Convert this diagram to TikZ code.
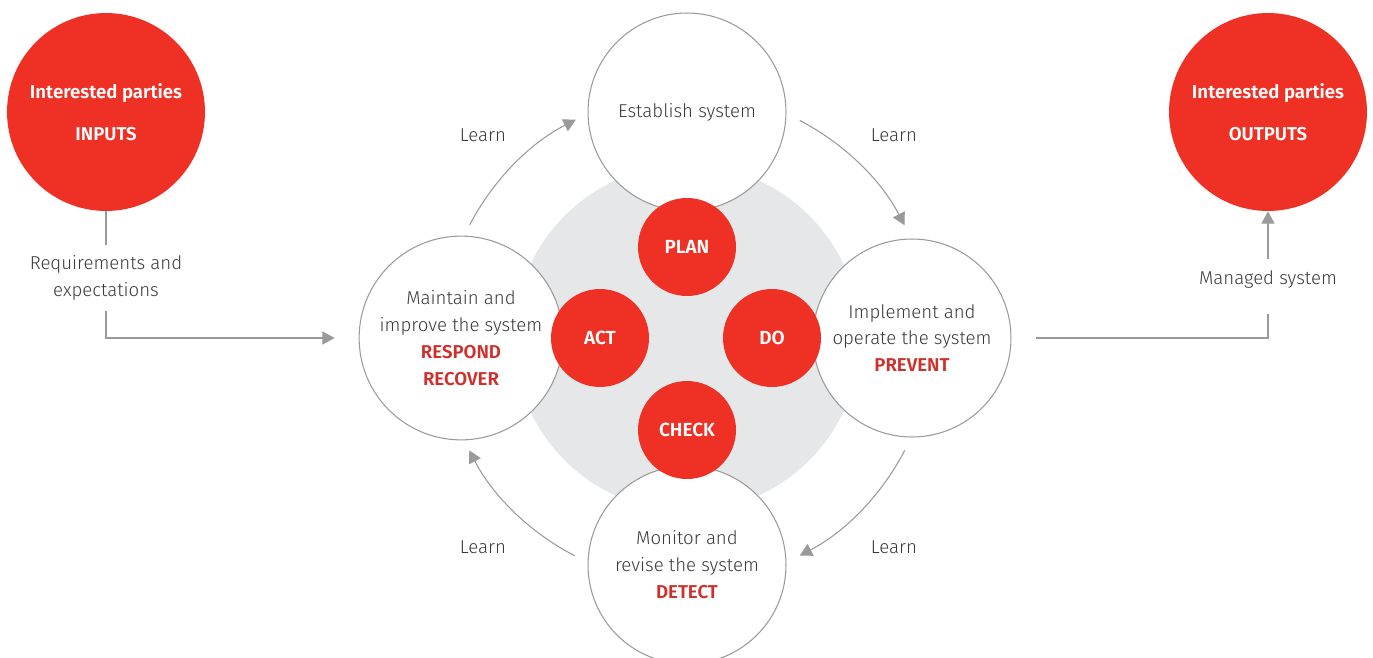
\documentclass[tikz,border=0pt]{standalone}
\usepackage{fontspec}
\setmainfont{Fira Sans Light}[BoldFont={Fira Sans SemiBold}]
\usetikzlibrary{shapes, arrows.meta}
\definecolor{isored}{HTML}{EE3124}
\definecolor{respred}{HTML}{D0302B}
\definecolor{ringgray}{HTML}{9A9A9A}
\definecolor{hubgray}{HTML}{E6E7E8}
\definecolor{textgray}{HTML}{3A3A3A}
\tikzstyle{base} = [circle, align=center, font=\fontsize{10.6}{15.3}\selectfont]
\tikzstyle{party} = [base, fill=isored, text=white, minimum size=3.96cm, font=\fontsize{10.6}{15.3}\selectfont\bfseries]
\tikzstyle{stage} = [base, draw=ringgray, line width=0.6pt, fill=white, text=textgray, minimum size=3.96cm]
\tikzstyle{phase} = [base, fill=isored, text=white, minimum size=1.96cm, font=\fontsize{10.8}{15.3}\selectfont\bfseries]
\tikzstyle{connector} = [draw=ringgray, line width=0.6pt, -{Triangle[length=7pt,width=7.5pt]}, ringgray]
\tikzstyle{connector text} = [text=textgray, align=center, inner sep=6pt, font=\fontsize{10.6}{15.3}\selectfont]
\newcommand{\respond}[1]{\textcolor{respred}{\textbf{#1}}}

\begin{document}
\begin{tikzpicture}[x=0.02cm, y=0.02cm]
	\useasboundingbox (0,0) rectangle (1373,657);

	% grey hub behind the cycle
	\node [circle, fill=hubgray, minimum size=6.92cm] at (687, 319) (hub) {};

	% interested parties
	\node [party] at (106, 545) (inputs) {Interested parties\\[8.5pt]INPUTS};
	\node [party] at (1268, 545) (outputs) {Interested parties\\[8.5pt]OUTPUTS};

	% management system stages
	\node [stage] at (687, 545) (establish) {Establish system};
	\node [stage] at (912, 319) (implement) {Implement and\\operate the system\\\respond{PREVENT}};
	\node [stage] at (687, 92) (monitor) {Monitor and\\revise the system\\\respond{DETECT}};
	\node [stage] at (461, 319) (maintain) {Maintain and\\improve the system\\\respond{RESPOND}\\\respond{RECOVER}};

	% PDCA
	\node [phase] at (687, 410) (plan) {PLAN};
	\node [phase] at (772, 319) (do) {DO};
	\node [phase] at (687, 227) (check) {CHECK};
	\node [phase] at (600, 319) (act) {ACT};

	% inputs and outputs
	\node [connector text] at (106, 379) (reqs) {Requirements and\\expectations};
	\node [connector text] at (1268, 378) (managed) {Managed system};

	\path [draw=ringgray, line width=0.6pt] (inputs) -- (reqs);
	\path [connector, shorten >=0.48cm] (reqs) |- (maintain);
	\path [draw=ringgray, line width=0.6pt, shorten <=0.48cm, shorten >=0.3cm] (implement) -| (managed.south);
	\path [connector] (managed) -- (outputs);

	% learn loops
	\coordinate (learn a) at ([shift={(152.5:245)}]hub.center);
	\coordinate (learn b) at ([shift={(62.6:245)}]hub.center);
	\coordinate (learn c) at ([shift={(-27.3:245)}]hub.center);
	\coordinate (learn d) at ([shift={(-117.3:245)}]hub.center);

	\path [connector] (learn a) arc[start angle=152.5, end angle=117, radius=245];
	\path [connector] (learn b) arc[start angle=62.6, end angle=27.4, radius=245];
	\path [connector] (learn c) arc[start angle=-27.3, end angle=-62.6, radius=245];
	\path [connector] (learn d) arc[start angle=-117.3, end angle=-152.7, radius=245];

	\node [connector text] at (483, 522) (learn ta) {Learn};
	\node [connector text] at (894, 522) (learn tb) {Learn};
	\node [connector text] at (894, 110) (learn tc) {Learn};
	\node [connector text] at (483, 110) (learn td) {Learn};

\end{tikzpicture}
\end{document}
